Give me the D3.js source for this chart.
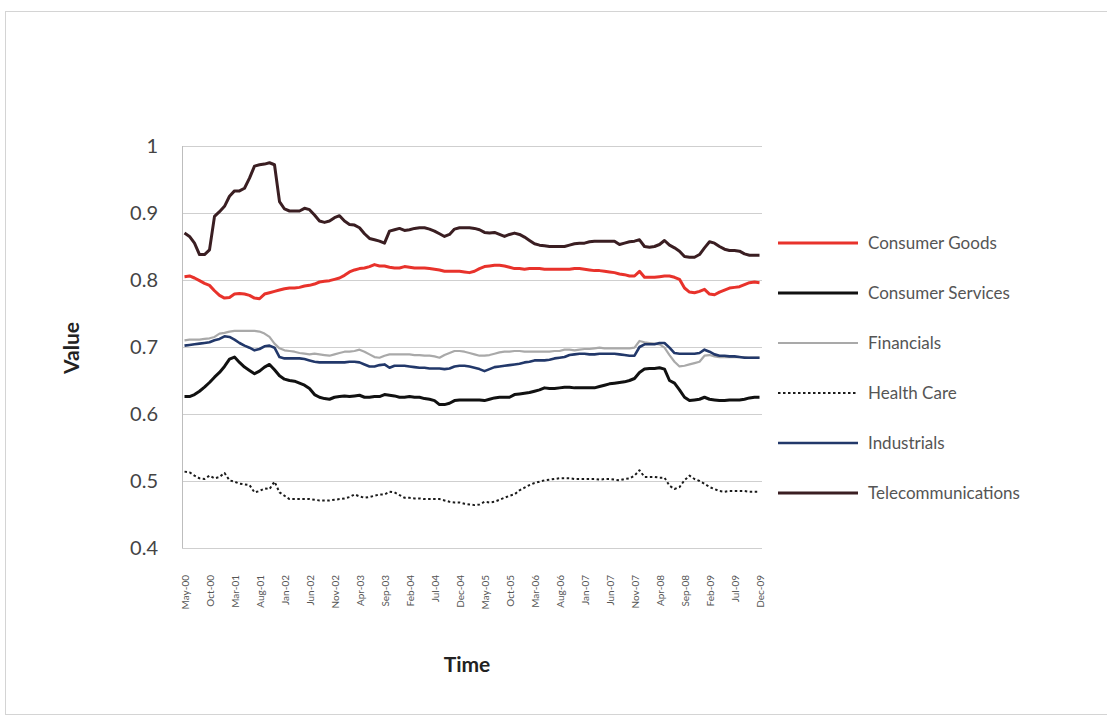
<!DOCTYPE html>
<html>
<head>
<meta charset="utf-8">
<script src="https://cdn.jsdelivr.net/npm/d3@7"></script>
<style>
  html, body { margin: 0; padding: 0; background: #ffffff; }
  svg { display: block; }
</style>
</head>
<body>
<svg id="chart" width="1107" height="722"></svg>
<script>
// Monthly sector values, May 2000 – Dec 2009 (116 months)
const startMonth = new Date(2000, 4, 1);
const endMonth = new Date(2009, 11, 1);

const seriesNames = ["Consumer Goods", "Consumer Services", "Financials", "Health Care", "Industrials", "Telecommunications"];

const consumerGoods = [
  0.805, 0.806, 0.803, 0.799, 0.795, 0.792, 0.784, 0.777, 0.773, 0.774,
  0.779, 0.780, 0.779, 0.777, 0.773, 0.772, 0.779, 0.781, 0.783, 0.785,
  0.787, 0.788, 0.788, 0.789, 0.791, 0.792, 0.794, 0.797, 0.798, 0.799,
  0.801, 0.803, 0.807, 0.812, 0.815, 0.817, 0.818, 0.820, 0.823, 0.821,
  0.821, 0.819, 0.818, 0.818, 0.820, 0.819, 0.818, 0.818, 0.818, 0.817,
  0.816, 0.815, 0.813, 0.813, 0.813, 0.813, 0.812, 0.811, 0.813, 0.817,
  0.820, 0.821, 0.822, 0.822, 0.821, 0.819, 0.817, 0.817, 0.816, 0.817,
  0.817, 0.817, 0.816, 0.816, 0.816, 0.816, 0.816, 0.816, 0.817, 0.817,
  0.816, 0.815, 0.814, 0.814, 0.813, 0.812, 0.811, 0.809, 0.808, 0.806,
  0.806, 0.813, 0.804, 0.804, 0.804, 0.805, 0.806, 0.806, 0.804, 0.801,
  0.788, 0.782, 0.781, 0.783, 0.786, 0.779, 0.778, 0.782, 0.785, 0.788,
  0.789, 0.790, 0.793, 0.796, 0.797, 0.796
];

const consumerServices = [
  0.626, 0.626, 0.629, 0.634, 0.640, 0.647, 0.655, 0.662, 0.671, 0.682,
  0.685, 0.677, 0.670, 0.665, 0.660, 0.664, 0.670, 0.674, 0.666, 0.657,
  0.652, 0.650, 0.649, 0.646, 0.643, 0.638, 0.629, 0.625, 0.623, 0.622,
  0.625, 0.626, 0.627, 0.626, 0.627, 0.628, 0.625, 0.625, 0.626, 0.626,
  0.629, 0.628, 0.627, 0.625, 0.625, 0.626, 0.625, 0.625, 0.623, 0.622,
  0.620, 0.614, 0.614, 0.616, 0.620, 0.621, 0.621, 0.621, 0.621, 0.621,
  0.620, 0.622, 0.624, 0.625, 0.625, 0.625, 0.629, 0.630, 0.631, 0.632,
  0.634, 0.636, 0.639, 0.638, 0.638, 0.639, 0.640, 0.640, 0.639, 0.639,
  0.639, 0.639, 0.639, 0.641, 0.643, 0.645, 0.646, 0.647, 0.648, 0.650,
  0.653, 0.662, 0.667, 0.668, 0.668, 0.669, 0.667, 0.650, 0.646, 0.636,
  0.625, 0.620, 0.621, 0.622, 0.625, 0.622, 0.621, 0.620, 0.620, 0.621,
  0.621, 0.621, 0.622, 0.624, 0.625, 0.625
];

const financials = [
  0.710, 0.711, 0.711, 0.711, 0.712, 0.713, 0.715, 0.720, 0.721, 0.723,
  0.724, 0.724, 0.724, 0.724, 0.724, 0.723, 0.720, 0.715, 0.705, 0.698,
  0.695, 0.694, 0.693, 0.691, 0.690, 0.689, 0.690, 0.689, 0.688, 0.687,
  0.689, 0.691, 0.693, 0.693, 0.694, 0.696, 0.693, 0.689, 0.685, 0.684,
  0.687, 0.689, 0.689, 0.689, 0.689, 0.689, 0.688, 0.688, 0.687, 0.687,
  0.686, 0.684, 0.688, 0.691, 0.694, 0.694, 0.693, 0.691, 0.689, 0.687,
  0.687, 0.688, 0.690, 0.692, 0.693, 0.693, 0.694, 0.694, 0.693, 0.693,
  0.693, 0.693, 0.693, 0.693, 0.694, 0.694, 0.696, 0.696, 0.695, 0.696,
  0.697, 0.697, 0.698, 0.699, 0.698, 0.698, 0.698, 0.698, 0.698, 0.698,
  0.699, 0.709, 0.707, 0.706, 0.705, 0.704, 0.699, 0.688, 0.678, 0.671,
  0.672, 0.674, 0.676, 0.678, 0.687, 0.688, 0.686, 0.685, 0.685, 0.685,
  0.685, 0.685, 0.685, 0.684, 0.684, 0.684
];

const healthCare = [
  0.514, 0.513, 0.508, 0.504, 0.503, 0.508, 0.504, 0.506, 0.512, 0.501,
  0.499, 0.496, 0.495, 0.494, 0.483, 0.485, 0.489, 0.488, 0.499, 0.483,
  0.478, 0.473, 0.473, 0.473, 0.473, 0.473, 0.472, 0.471, 0.471, 0.471,
  0.472, 0.473, 0.474, 0.476, 0.480, 0.477, 0.475, 0.476, 0.478, 0.480,
  0.480, 0.484, 0.483, 0.479, 0.475, 0.475, 0.474, 0.474, 0.473, 0.473,
  0.473, 0.473, 0.471, 0.469, 0.468, 0.468, 0.466, 0.465, 0.464, 0.465,
  0.469, 0.468, 0.469, 0.472, 0.475, 0.478, 0.480, 0.486, 0.490, 0.494,
  0.497, 0.499, 0.501, 0.502, 0.503, 0.504, 0.504, 0.504, 0.503, 0.503,
  0.503, 0.503, 0.503, 0.502, 0.503, 0.503, 0.502, 0.501, 0.503, 0.504,
  0.508, 0.516, 0.506, 0.506, 0.506, 0.505, 0.505, 0.493, 0.488, 0.491,
  0.501, 0.508, 0.503, 0.500, 0.496, 0.491, 0.488, 0.485, 0.484, 0.485,
  0.485, 0.485, 0.485, 0.484, 0.484, 0.484
];

const industrials = [
  0.702, 0.703, 0.704, 0.705, 0.706, 0.707, 0.710, 0.712, 0.716, 0.715,
  0.711, 0.706, 0.702, 0.699, 0.695, 0.697, 0.701, 0.702, 0.699, 0.685,
  0.683, 0.683, 0.683, 0.683, 0.682, 0.680, 0.678, 0.677, 0.677, 0.677,
  0.677, 0.677, 0.677, 0.678, 0.678, 0.677, 0.674, 0.671, 0.671, 0.673,
  0.674, 0.669, 0.672, 0.672, 0.672, 0.671, 0.670, 0.669, 0.669, 0.668,
  0.668, 0.668, 0.667, 0.668, 0.671, 0.672, 0.672, 0.671, 0.669, 0.667,
  0.664, 0.667, 0.670, 0.671, 0.672, 0.673, 0.674, 0.675, 0.677, 0.678,
  0.680, 0.680, 0.680, 0.681, 0.683, 0.684, 0.685, 0.688, 0.689, 0.690,
  0.690, 0.689, 0.689, 0.690, 0.690, 0.690, 0.690, 0.689, 0.688, 0.687,
  0.687, 0.700, 0.704, 0.704, 0.704, 0.706, 0.706, 0.699, 0.691, 0.690,
  0.690, 0.690, 0.690, 0.691, 0.696, 0.693, 0.689, 0.687, 0.687, 0.686,
  0.686, 0.685, 0.684, 0.684, 0.684, 0.684
];

const telecommunications = [
  0.870, 0.865, 0.855, 0.838, 0.838, 0.845, 0.895, 0.902, 0.910, 0.925,
  0.933, 0.933, 0.937, 0.952, 0.970, 0.972, 0.973, 0.975, 0.972, 0.917,
  0.906, 0.903, 0.903, 0.903, 0.907, 0.905, 0.897, 0.888, 0.886, 0.888,
  0.893, 0.896, 0.888, 0.883, 0.882, 0.878, 0.869, 0.862, 0.860, 0.858,
  0.855, 0.873, 0.875, 0.877, 0.874, 0.875, 0.877, 0.878, 0.878, 0.876,
  0.873, 0.869, 0.865, 0.868, 0.876, 0.878, 0.878, 0.878, 0.877, 0.875,
  0.871, 0.870, 0.871, 0.868, 0.865, 0.868, 0.870, 0.868, 0.864, 0.859,
  0.854, 0.852, 0.851, 0.850, 0.850, 0.850, 0.850, 0.852, 0.854, 0.855,
  0.855, 0.857, 0.858, 0.858, 0.858, 0.858, 0.858, 0.853, 0.855, 0.857,
  0.858, 0.860, 0.850, 0.849, 0.850, 0.853, 0.859, 0.852, 0.848, 0.843,
  0.835, 0.834, 0.834, 0.838, 0.848, 0.857, 0.855, 0.850, 0.846, 0.844,
  0.844, 0.843, 0.839, 0.837, 0.837, 0.837
];

const yTicks = [0.4, 0.5, 0.6, 0.7, 0.8, 0.9, 1];

// Every fifth month carries a label
const tickEvery = 5;

const seriesStyles = [
  { values: consumerGoods,      color: "#e8322b", width: 3,   dash: null },
  { values: consumerServices,   color: "#111111", width: 3,   dash: null },
  { values: financials,         color: "#a9a9a9", width: 2.2, dash: null },
  { values: healthCare,         color: "#1a1a1a", width: 2,   dash: "2.5,2.5" },
  { values: industrials,        color: "#22386a", width: 2.6, dash: null },
  { values: telecommunications, color: "#3a1e22", width: 3,   dash: null }
];

const months = d3.timeMonth.range(startMonth, d3.timeMonth.offset(endMonth, 1));
const fmt = d3.timeFormat("%b-%y");

const svg = d3.select("#chart");
const font = "Lato, 'Open Sans', 'DejaVu Sans', sans-serif";

// Outer chart frame
svg.append("rect")
  .attr("x", 5.5).attr("y", 11.5)
  .attr("width", 1120).attr("height", 703)
  .attr("fill", "none").attr("stroke", "#d4d4d4").attr("stroke-width", 1);

const plot = { left: 182, right: 762, top: 146, bottom: 548 };

const x = d3.scalePoint()
  .domain(d3.range(months.length))
  .range([plot.left, plot.right])
  .padding(0.5);

const y = d3.scaleLinear()
  .domain([0.4, 1])
  .range([plot.bottom, plot.top]);

// Horizontal gridlines
svg.append("g")
  .selectAll("line")
  .data(yTicks)
  .join("line")
  .attr("x1", plot.left).attr("x2", plot.right)
  .attr("y1", d => Math.round(y(d)) + 0.5)
  .attr("y2", d => Math.round(y(d)) + 0.5)
  .attr("stroke", "#cfcfcf").attr("stroke-width", 1);

// Vertical axis line
svg.append("line")
  .attr("x1", plot.left + 0.5).attr("x2", plot.left + 0.5)
  .attr("y1", plot.top).attr("y2", plot.bottom)
  .attr("stroke", "#bdbdbd").attr("stroke-width", 1);

// Y axis labels
const yAxis = d3.axisLeft(y).tickValues(yTicks).tickSize(0).tickPadding(0)
  .tickFormat(d => d3.format("")(d));
svg.append("g")
  .attr("transform", `translate(${plot.left - 24},0)`)
  .call(yAxis)
  .call(g => g.select(".domain").remove())
  .call(g => g.selectAll("text")
    .attr("font-family", font)
    .attr("font-size", 20)
    .attr("fill", "#444"));

// X axis labels, rotated
const xAxis = d3.axisBottom(x)
  .tickValues(d3.range(0, months.length, tickEvery))
  .tickSize(0)
  .tickFormat(i => fmt(months[i]));
svg.append("g")
  .attr("transform", `translate(0,${plot.bottom})`)
  .call(xAxis)
  .call(g => g.select(".domain").remove())
  .call(g => g.selectAll("text")
    .attr("font-family", font)
    .attr("font-size", 10)
    .attr("fill", "#555")
    .attr("text-anchor", "end")
    .attr("dy", "0.35em")
    .attr("transform", "translate(0,27) rotate(-90)")
    .attr("x", 0).attr("y", 0));

// Series lines
const line = d3.line()
  .x((d, i) => x(i))
  .y(d => y(d));

svg.append("g")
  .selectAll("path")
  .data(seriesStyles)
  .join("path")
  .attr("d", d => line(d.values))
  .attr("fill", "none")
  .attr("stroke", d => d.color)
  .attr("stroke-width", d => d.width)
  .attr("stroke-dasharray", d => d.dash)
  .attr("stroke-linejoin", "round");

// Axis titles
svg.append("text")
  .attr("transform", "translate(79,348) rotate(-90)")
  .attr("text-anchor", "middle")
  .attr("font-family", font)
  .attr("font-weight", "bold")
  .attr("font-size", 21)
  .attr("fill", "#222")
  .text("Value");

svg.append("text")
  .attr("x", 467).attr("y", 672)
  .attr("text-anchor", "middle")
  .attr("font-family", font)
  .attr("font-weight", "bold")
  .attr("font-size", 21)
  .attr("fill", "#222")
  .text("Time");

// Legend
const legend = svg.append("g").attr("transform", "translate(778,243)");
const rows = legend.selectAll("g")
  .data(seriesStyles)
  .join("g")
  .attr("transform", (d, i) => `translate(0,${i * 50})`);
rows.append("line")
  .attr("x1", 0).attr("x2", 80)
  .attr("y1", 0).attr("y2", 0)
  .attr("stroke", d => d.color)
  .attr("stroke-width", d => d.width)
  .attr("stroke-dasharray", d => d.dash);
rows.append("text")
  .attr("x", 90).attr("y", 0)
  .attr("dy", "0.35em")
  .attr("font-family", font)
  .attr("font-size", 17)
  .attr("fill", "#555")
  .text((d, i) => seriesNames[i]);
</script>
</body>
</html>
